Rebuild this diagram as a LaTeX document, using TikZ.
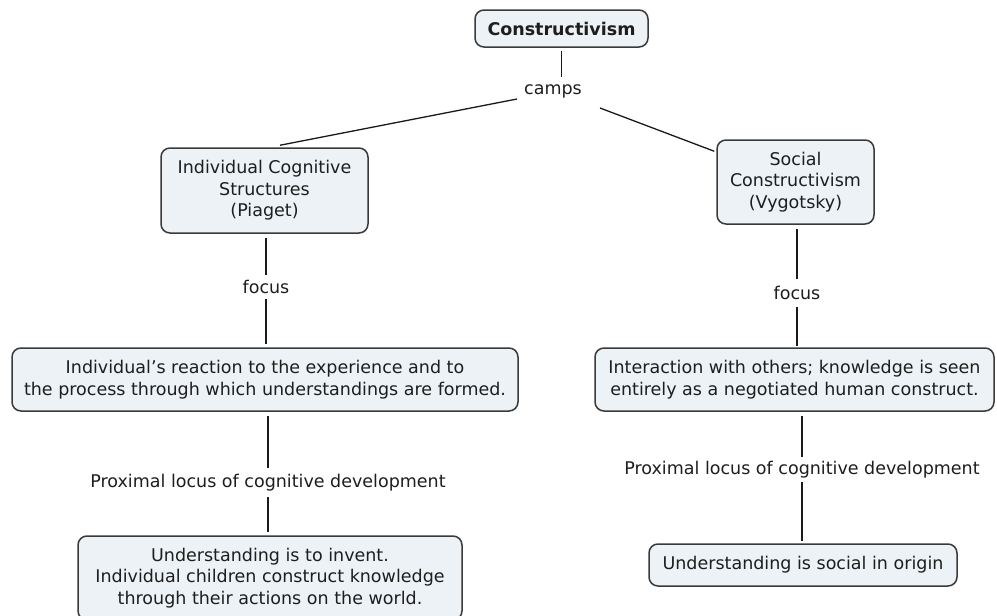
\documentclass[tikz,border=0pt]{standalone}
\usepackage{fontspec}
\setmainfont{DejaVu Sans}
\definecolor{boxfill}{HTML}{ECF2F5}
\definecolor{boxline}{HTML}{3A3A3A}
\definecolor{txt}{HTML}{1E1E1E}
\definecolor{linec}{HTML}{1A1A1A}
\begin{document}
\begin{tikzpicture}[x=1pt,y=-1pt,
  box/.style={draw=boxline, fill=boxfill, line width=1.5pt, rounded corners=9pt,
    align=center, inner sep=0pt, text=txt, font=\fontsize{17.5}{21.5}\selectfont},
  lbl/.style={inner sep=0pt, text=txt, font=\fontsize{17.5}{21.5}\selectfont},
  conn/.style={line width=1.3pt, draw=linec}]
\clip (0,0) rectangle (997,616);
\fill[white] (0,0) rectangle (997,616);

\node[box, minimum width=173pt, minimum height=37pt,
  font=\fontsize{17.5}{21.5}\selectfont\bfseries] (con) at (561.5,28.5) {Constructivism};
\node[box, minimum width=207pt, minimum height=85pt] (ind) at (264.5,190.5)
  {Individual Cognitive\\Structures\\(Piaget)};
\node[box, minimum width=157pt, minimum height=84pt] (soc) at (795.5,182)
  {Social\\Constructivism\\(Vygotsky)};
\node[box, minimum width=506pt, minimum height=63pt] (react) at (265,379.5)
  {Individual’s reaction to the experience and to\\the process through which understandings are formed.};
\node[box, minimum width=399pt, minimum height=63pt] (inter) at (794.5,379.5)
  {Interaction with others; knowledge is seen\\entirely as a negotiated human construct.};
\node[box, minimum width=384pt, minimum height=84pt] (invent) at (270,578)
  {Understanding is to invent.\\Individual children construct knowledge\\through their actions on the world.};
\node[box, minimum width=308pt, minimum height=42pt] (usoc) at (803,565)
  {Understanding is social in origin};

\node[lbl, minimum height=28pt] (camps) at (553,91) {camps};
\node[lbl, minimum height=24pt] (focL) at (266,287) {focus};
\node[lbl, minimum height=28pt] (focR) at (797,293) {focus};
\node[lbl, minimum height=29pt] (proxL) at (268,482.5) {Proximal locus of cognitive development};
\node[lbl, minimum height=25pt] (proxR) at (802,469.5) {Proximal locus of cognitive development};

\draw[conn, shorten <=3pt] (con.south) -- (con.south |- camps.north);
\draw[conn] ([shift={(-36pt,-8pt)}]camps.center) -- ([shift={(15.5pt,2pt)}]ind.north);
\draw[conn] ([shift={(47pt,-17pt)}]camps.center) -- ([shift={(-2pt,-12pt)}]soc.north west);

\draw[conn, shorten <=4pt] (ind.south -| focL) -- (focL.north);
\draw[conn, shorten >=3pt] (focL.south) -- (focL.south |- react.north);
\draw[conn, shorten <=4pt] (react.south -| proxL) -- (proxL.north);
\draw[conn, shorten >=3pt] (proxL.south) -- (proxL.south |- invent.north);

\draw[conn, shorten <=4pt] (soc.south -| focR) -- (focR.north);
\draw[conn, shorten >=1pt] (focR.south) -- (focR.south |- inter.north);
\draw[conn, shorten <=4pt] (inter.south -| proxR) -- (proxR.north);
\draw[conn, shorten >=2pt] (proxR.south) -- (proxR.south |- usoc.north);
\end{tikzpicture}
\end{document}
